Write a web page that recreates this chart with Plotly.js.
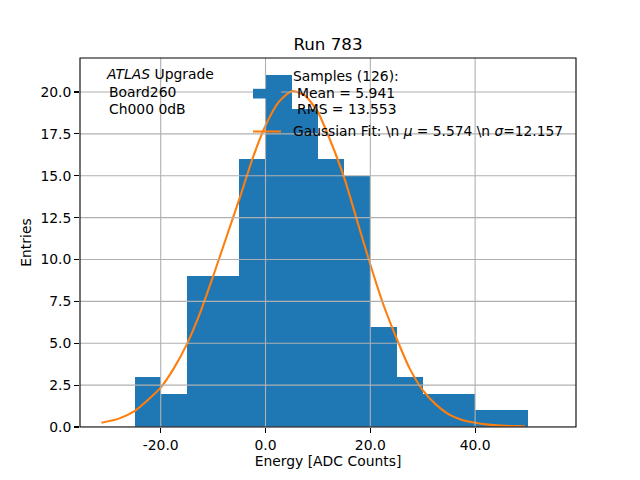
<!DOCTYPE html>
<html>
<head>
<meta charset="utf-8">
<script src="https://cdn.plot.ly/plotly-3.0.1.min.js"></script>
<style>html,body{margin:0;padding:0;background:#fff;}#chart{width:640px;height:480px;}</style>
</head>
<body>
<div id="chart"></div>
<script>
// Histogram bins (left edges, width 5) and counts
const binLeft = [-25, -20, -15, -10, -5, 0, 5, 10, 15, 20, 25, 30, 35, 40, 45];
const counts  = [3, 2, 9, 9, 16, 21, 19, 16, 15, 6, 3, 2, 2, 1, 1];
const binWidth = 5;

// Gaussian fit curve
const fitX = [-31.3, -28, -25, -22.5, -20, -17.5, -15, -12.5, -10, -7.5, -5, -2.5, 0, 2.5, 5, 7.5, 10, 12.5, 15, 17.5, 20, 22.5, 25, 27.5, 30, 32.5, 35, 37.5, 40, 42.5, 45, 47.5, 49.5];
const fitY = [0.25, 0.5, 0.95, 1.6, 2.35, 3.5, 4.95, 6.8, 9.0, 11.3, 13.6, 16.0, 18.0, 19.4, 20.05, 19.8, 18.8, 17.0, 14.9, 12.3, 9.7, 7.3, 5.3, 3.5, 2.2, 1.35, 0.75, 0.42, 0.25, 0.14, 0.08, 0.05, 0.04];

const xTicks = [-20, 0, 20, 40];
const xTickLabels = ["-20.0", "0.0", "20.0", "40.0"];
const yTicks = [0, 2.5, 5, 7.5, 10, 12.5, 15, 17.5, 20];
const yTickLabels = ["0.0", "2.5", "5.0", "7.5", "10.0", "12.5", "15.0", "17.5", "20.0"];

const FONT = "DejaVu Sans, sans-serif";
const FS = 13.9;
const W = 640, H = 480, L = 80, R = 576, T = 58, B = 427;
const px = x => (x - L) / (R - L);
const py = y => (B - y) / (B - T);

const traces = [
  {
    type: 'bar', x: binLeft, y: counts, width: binWidth, offset: 0,
    marker: {color: '#1f77b4', line: {width: 0}}, showlegend: false, hoverinfo: 'skip'
  },
  {
    type: 'scatter', mode: 'lines', x: fitX, y: fitY,
    line: {color: '#ff7f0e', width: 2.1, shape: 'spline', smoothing: 0.6},
    showlegend: false, hoverinfo: 'skip'
  }
];

const shapes = [];
xTicks.forEach(v => shapes.push({type: 'line', xref: 'x', yref: 'paper', x0: v, x1: v, y0: 0, y1: 1, line: {color: '#b0b0b0', width: 1.1}, layer: 'above'}));
yTicks.forEach(v => shapes.push({type: 'line', xref: 'paper', yref: 'y', x0: 0, x1: 1, y0: v, y1: v, line: {color: '#b0b0b0', width: 1.1}, layer: 'above'}));
// legend handles
shapes.push({type: 'rect', xref: 'paper', yref: 'paper', x0: px(253), x1: px(281), y0: py(98.5), y1: py(88.8), fillcolor: '#1f77b4', line: {width: 0}, layer: 'above'});
shapes.push({type: 'line', xref: 'paper', yref: 'paper', x0: px(253), x1: px(281), y0: py(131.5), y1: py(131.5), line: {color: '#ff7f0e', width: 2.1}, layer: 'above'});
// frame
shapes.push({type: 'rect', xref: 'paper', yref: 'paper', x0: 0, x1: 1, y0: 0, y1: 1, line: {color: '#000', width: 1.1}, layer: 'above'});

function ann(text, x, y, size) {
  return {text: text, xref: 'paper', yref: 'paper', x: px(x), y: py(y), xanchor: 'left', yanchor: 'middle', showarrow: false, font: {family: FONT, size: size || FS, color: '#000'}};
}
const annotations = [
  ann('<i>ATLAS</i> Upgrade', 103.5, 74.3),
  ann('Board260', 107, 92.3),
  ann('Ch000 0dB', 107, 108.5),
  ann('Samples (126):', 291, 76),
  ann('Mean = 5.941', 295, 92.5),
  ann('RMS = 13.553', 295, 109),
  ann('Gaussian Fit: \\n <i>μ</i> = 5.574 \\n <i>σ</i>=12.157', 291, 131, 13.8)
];

const layout = {
  width: W, height: H,
  margin: {l: L, r: W - R, t: T, b: H - B, pad: 0},
  paper_bgcolor: '#fff', plot_bgcolor: '#fff',
  font: {family: FONT, size: FS, color: '#000'},
  title: {text: 'Run 783', font: {family: FONT, size: 16.7, color: '#000'}, x: 0.5, xref: 'paper', y: 1 - 44 / H, yref: 'container', yanchor: 'middle', xanchor: 'center'},
  bargap: 0,
  xaxis: {
    range: [-35.4, 59.25], tickvals: xTicks, ticktext: xTickLabels,
    showgrid: false, zeroline: false, showline: false,
    ticks: 'outside', ticklen: 4.9, tickwidth: 1.1, tickcolor: '#000',
    tickfont: {family: FONT, size: FS, color: '#000'},
    title: {text: 'Energy [ADC Counts]', font: {family: FONT, size: FS, color: '#000'}, standoff: 3}
  },
  yaxis: {
    range: [0, 22.03], tickvals: yTicks, ticktext: yTickLabels,
    showgrid: false, zeroline: false, showline: false,
    ticks: 'outside', ticklen: 4.9, tickwidth: 1.1, tickcolor: '#000',
    tickfont: {family: FONT, size: FS, color: '#000'},
    title: {text: 'Entries', font: {family: FONT, size: FS, color: '#000'}, standoff: 5}
  },
  shapes: shapes,
  annotations: annotations,
  showlegend: false
};

Plotly.newPlot('chart', traces, layout, {staticPlot: true, displayModeBar: false});
</script>
</body>
</html>
